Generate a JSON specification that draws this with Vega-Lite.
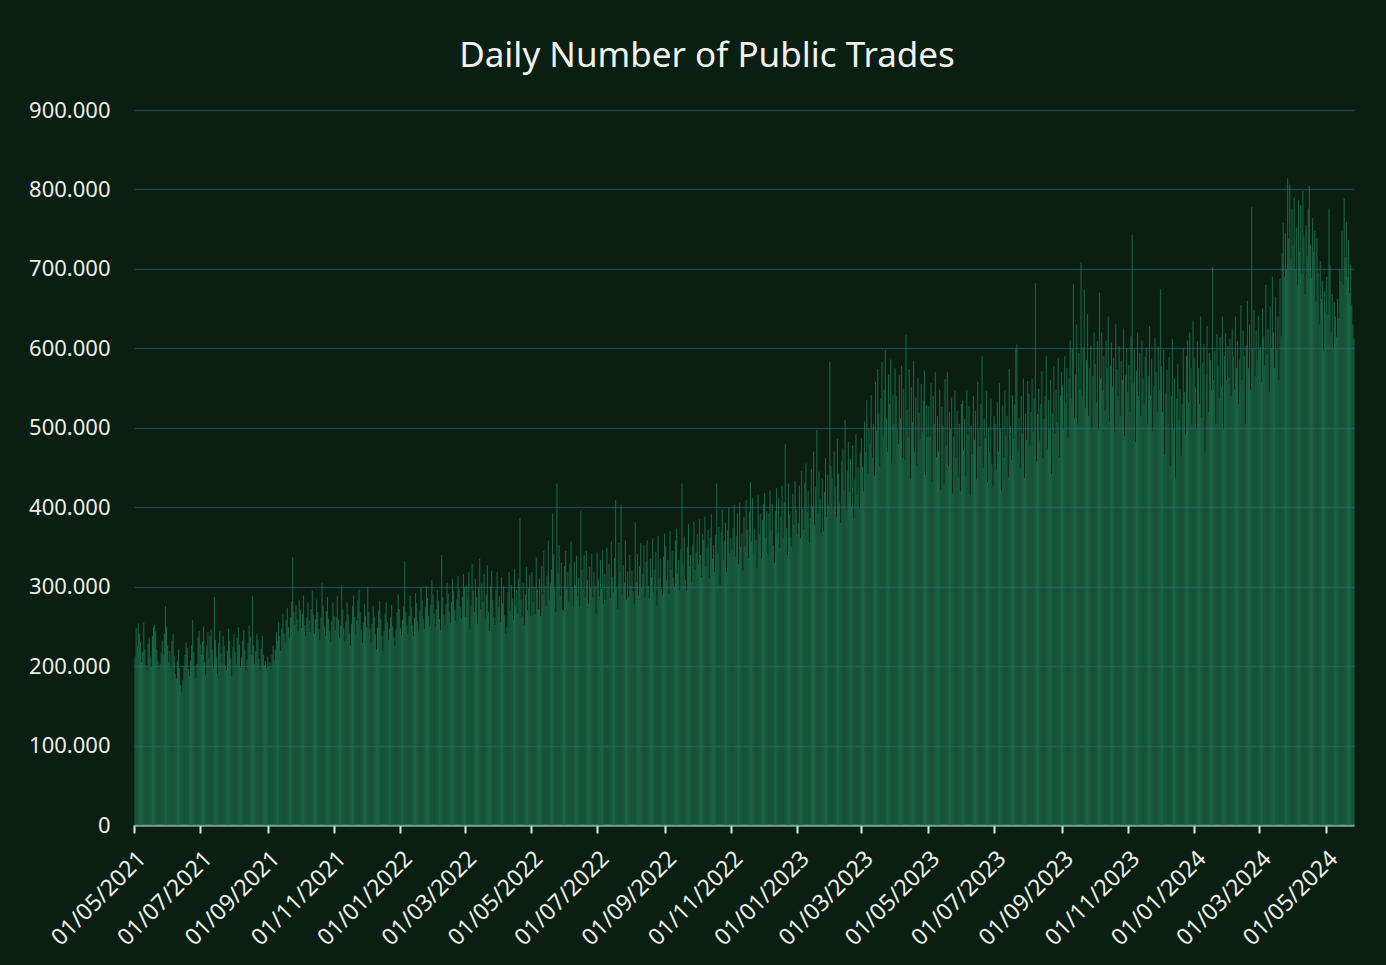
{
"$schema": "https://vega.github.io/schema/vega-lite/v6.json",
"width": 1220,
"height": 715,
"autosize": {"type": "none"},
"padding": {"left": 134, "top": 110, "right": 32, "bottom": 140},
"background": "#0a1e12",
"title": {"text": "Daily Number of Public Trades", "anchor": "middle", "dx": -37, "offset": 25, "font": "Noto Sans", "fontSize": 35, "fontWeight": "normal", "color": "#f2f2ec"},
"data": {"format": {"type": "csv", "parse": {"date": "utc:'%Y%m%d'", "trades": "number"}}, "values": "date,trades\n20210501,212000\n20210502,248000\n20210503,226000\n20210504,254000\n20210505,241000\n20210506,230000\n20210507,205000\n20210508,218000\n20210509,255000\n20210510,222000\n20210511,201000\n20210512,195000\n20210513,228000\n20210514,236000\n20210515,212000\n20210516,199000\n20210517,238000\n20210518,249000\n20210519,252000\n20210520,244000\n20210521,221000\n20210522,206000\n20210523,197000\n20210524,203000\n20210525,217000\n20210526,232000\n20210527,214000\n20210528,241000\n20210529,275000\n20210530,250000\n20210531,226000\n20210601,205000\n20210602,219000\n20210603,198000\n20210604,232000\n20210605,240000\n20210606,212000\n20210607,190000\n20210608,184000\n20210609,206000\n20210610,221000\n20210611,197000\n20210612,176000\n20210613,168000\n20210614,182000\n20210615,201000\n20210616,214000\n20210617,230000\n20210618,223000\n20210619,196000\n20210620,188000\n20210621,207000\n20210622,226000\n20210623,258000\n20210624,218000\n20210625,199000\n20210626,185000\n20210627,203000\n20210628,236000\n20210629,244000\n20210630,227000\n20210701,214000\n20210702,231000\n20210703,250000\n20210704,205000\n20210705,189000\n20210706,226000\n20210707,243000\n20210708,210000\n20210709,238000\n20210710,246000\n20210711,221000\n20210712,198000\n20210713,287000\n20210714,233000\n20210715,212000\n20210716,190000\n20210717,229000\n20210718,244000\n20210719,216000\n20210720,203000\n20210721,238000\n20210722,226000\n20210723,201000\n20210724,195000\n20210725,219000\n20210726,247000\n20210727,232000\n20210728,210000\n20210729,188000\n20210730,224000\n20210731,240000\n20210801,218000\n20210802,203000\n20210803,236000\n20210804,249000\n20210805,227000\n20210806,198000\n20210807,211000\n20210808,232000\n20210809,245000\n20210810,220000\n20210811,195000\n20210812,208000\n20210813,229000\n20210814,251000\n20210815,237000\n20210816,214000\n20210817,288000\n20210818,226000\n20210819,203000\n20210820,219000\n20210821,241000\n20210822,233000\n20210823,209000\n20210824,196000\n20210825,222000\n20210826,238000\n20210827,214000\n20210828,201000\n20210829,206000\n20210830,198000\n20210831,212000\n20210901,199000\n20210902,205000\n20210903,196000\n20210904,214000\n20210905,226000\n20210906,208000\n20210907,221000\n20210908,243000\n20210909,232000\n20210910,255000\n20210911,238000\n20210912,219000\n20210913,247000\n20210914,266000\n20210915,241000\n20210916,229000\n20210917,258000\n20210918,273000\n20210919,249000\n20210920,236000\n20210921,262000\n20210922,281000\n20210923,337000\n20210924,268000\n20210925,252000\n20210926,277000\n20210927,259000\n20210928,244000\n20210929,283000\n20210930,271000\n20211001,248000\n20211002,266000\n20211003,289000\n20211004,252000\n20211005,238000\n20211006,261000\n20211007,280000\n20211008,257000\n20211009,243000\n20211010,272000\n20211011,295000\n20211012,264000\n20211013,241000\n20211014,259000\n20211015,284000\n20211016,268000\n20211017,247000\n20211018,233000\n20211019,262000\n20211020,305000\n20211021,276000\n20211022,250000\n20211023,238000\n20211024,269000\n20211025,287000\n20211026,259000\n20211027,244000\n20211028,231000\n20211029,256000\n20211030,280000\n20211031,263000\n20211101,245000\n20211102,262000\n20211103,288000\n20211104,259000\n20211105,236000\n20211106,251000\n20211107,302000\n20211108,271000\n20211109,248000\n20211110,231000\n20211111,257000\n20211112,280000\n20211113,264000\n20211114,242000\n20211115,226000\n20211116,253000\n20211117,276000\n20211118,289000\n20211119,262000\n20211120,240000\n20211121,258000\n20211122,283000\n20211123,296000\n20211124,268000\n20211125,246000\n20211126,229000\n20211127,255000\n20211128,278000\n20211129,263000\n20211130,249000\n20211201,300000\n20211202,268000\n20211203,247000\n20211204,229000\n20211205,253000\n20211206,276000\n20211207,262000\n20211208,240000\n20211209,221000\n20211210,248000\n20211211,270000\n20211212,282000\n20211213,259000\n20211214,238000\n20211215,219000\n20211216,244000\n20211217,266000\n20211218,280000\n20211219,255000\n20211220,233000\n20211221,247000\n20211222,262000\n20211223,277000\n20211224,250000\n20211225,236000\n20211226,226000\n20211227,246000\n20211228,268000\n20211229,290000\n20211230,272000\n20211231,248000\n20220101,239000\n20220102,258000\n20220103,275000\n20220104,332000\n20220105,268000\n20220106,251000\n20220107,240000\n20220108,263000\n20220109,289000\n20220110,274000\n20220111,252000\n20220112,238000\n20220113,261000\n20220114,292000\n20220115,279000\n20220116,256000\n20220117,244000\n20220118,270000\n20220119,299000\n20220120,283000\n20220121,260000\n20220122,247000\n20220123,274000\n20220124,301000\n20220125,286000\n20220126,263000\n20220127,250000\n20220128,277000\n20220129,308000\n20220130,290000\n20220131,266000\n20220201,249000\n20220202,272000\n20220203,296000\n20220204,282000\n20220205,259000\n20220206,245000\n20220207,340000\n20220208,287000\n20220209,264000\n20220210,251000\n20220211,278000\n20220212,305000\n20220213,291000\n20220214,268000\n20220215,254000\n20220216,281000\n20220217,310000\n20220218,294000\n20220219,271000\n20220220,257000\n20220221,284000\n20220222,313000\n20220223,297000\n20220224,274000\n20220225,260000\n20220226,287000\n20220227,316000\n20220228,300000\n20220301,262000\n20220302,301000\n20220303,284000\n20220304,318000\n20220305,247000\n20220306,276000\n20220307,329000\n20220308,295000\n20220309,268000\n20220310,310000\n20220311,287000\n20220312,253000\n20220313,299000\n20220314,335000\n20220315,272000\n20220316,304000\n20220317,281000\n20220318,316000\n20220319,259000\n20220320,290000\n20220321,327000\n20220322,268000\n20220323,244000\n20220324,301000\n20220325,320000\n20220326,283000\n20220327,262000\n20220328,252000\n20220329,296000\n20220330,318000\n20220331,275000\n20220401,288000\n20220402,255000\n20220403,312000\n20220404,279000\n20220405,301000\n20220406,264000\n20220407,241000\n20220408,249000\n20220409,293000\n20220410,318000\n20220411,270000\n20220412,302000\n20220413,285000\n20220414,258000\n20220415,322000\n20220416,276000\n20220417,296000\n20220418,267000\n20220419,310000\n20220420,386000\n20220421,284000\n20220422,262000\n20220423,305000\n20220424,252000\n20220425,290000\n20220426,325000\n20220427,271000\n20220428,298000\n20220429,314000\n20220430,263000\n20220501,318000\n20220502,281000\n20220503,300000\n20220504,265000\n20220505,337000\n20220506,296000\n20220507,272000\n20220508,310000\n20220509,263000\n20220510,326000\n20220511,290000\n20220512,345000\n20220513,301000\n20220514,276000\n20220515,314000\n20220516,358000\n20220517,283000\n20220518,304000\n20220519,322000\n20220520,392000\n20220521,341000\n20220522,297000\n20220523,268000\n20220524,430000\n20220525,317000\n20220526,352000\n20220527,288000\n20220528,330000\n20220529,271000\n20220530,270000\n20220531,326000\n20220601,345000\n20220602,296000\n20220603,318000\n20220604,281000\n20220605,329000\n20220606,357000\n20220607,300000\n20220608,276000\n20220609,331000\n20220610,302000\n20220611,339000\n20220612,288000\n20220613,311000\n20220614,274000\n20220615,395000\n20220616,322000\n20220617,297000\n20220618,340000\n20220619,286000\n20220620,345000\n20220621,308000\n20220622,279000\n20220623,325000\n20220624,298000\n20220625,341000\n20220626,287000\n20220627,318000\n20220628,301000\n20220629,266000\n20220630,343000\n20220701,310000\n20220702,288000\n20220703,334000\n20220704,297000\n20220705,346000\n20220706,278000\n20220707,316000\n20220708,283000\n20220709,349000\n20220710,301000\n20220711,329000\n20220712,286000\n20220713,357000\n20220714,312000\n20220715,293000\n20220716,336000\n20220717,409000\n20220718,299000\n20220719,272000\n20220720,355000\n20220721,318000\n20220722,403000\n20220723,290000\n20220724,327000\n20220725,305000\n20220726,358000\n20220727,284000\n20220728,319000\n20220729,287000\n20220730,340000\n20220731,301000\n20220801,320000\n20220802,294000\n20220803,278000\n20220804,381000\n20220805,306000\n20220806,341000\n20220807,289000\n20220808,326000\n20220809,355000\n20220810,298000\n20220811,316000\n20220812,352000\n20220813,287000\n20220814,331000\n20220815,358000\n20220816,301000\n20220817,285000\n20220818,335000\n20220819,312000\n20220820,361000\n20220821,293000\n20220822,322000\n20220823,344000\n20220824,276000\n20220825,364000\n20220826,310000\n20220827,335000\n20220828,297000\n20220829,290000\n20220830,338000\n20220831,367000\n20220901,351000\n20220902,308000\n20220903,334000\n20220904,291000\n20220905,370000\n20220906,322000\n20220907,345000\n20220908,312000\n20220909,300000\n20220910,358000\n20220911,373000\n20220912,317000\n20220913,334000\n20220914,296000\n20220915,347000\n20220916,430000\n20220917,328000\n20220918,363000\n20220919,308000\n20220920,295000\n20220921,350000\n20220922,379000\n20220923,326000\n20220924,340000\n20220925,306000\n20220926,353000\n20220927,382000\n20220928,321000\n20220929,343000\n20220930,366000\n20221001,328000\n20221002,385000\n20221003,340000\n20221004,312000\n20221005,366000\n20221006,359000\n20221007,388000\n20221008,325000\n20221009,349000\n20221010,372000\n20221011,310000\n20221012,362000\n20221013,391000\n20221014,335000\n20221015,352000\n20221016,318000\n20221017,365000\n20221018,430000\n20221019,341000\n20221020,375000\n20221021,302000\n20221022,368000\n20221023,397000\n20221024,334000\n20221025,358000\n20221026,380000\n20221027,318000\n20221028,371000\n20221029,400000\n20221030,342000\n20221031,361000\n20221101,347000\n20221102,374000\n20221103,403000\n20221104,338000\n20221105,364000\n20221106,392000\n20221107,329000\n20221108,406000\n20221109,350000\n20221110,367000\n20221111,320000\n20221112,388000\n20221113,351000\n20221114,409000\n20221115,372000\n20221116,336000\n20221117,394000\n20221118,432000\n20221119,357000\n20221120,412000\n20221121,343000\n20221122,373000\n20221123,359000\n20221124,324000\n20221125,415000\n20221126,366000\n20221127,392000\n20221128,335000\n20221129,384000\n20221130,404000\n20221201,418000\n20221202,362000\n20221203,395000\n20221204,341000\n20221205,392000\n20221206,421000\n20221207,370000\n20221208,404000\n20221209,352000\n20221210,330000\n20221211,395000\n20221212,424000\n20221213,368000\n20221214,412000\n20221215,349000\n20221216,388000\n20221217,427000\n20221218,361000\n20221219,406000\n20221220,480000\n20221221,374000\n20221222,340000\n20221223,430000\n20221224,391000\n20221225,362000\n20221226,350000\n20221227,417000\n20221228,378000\n20221229,433000\n20221230,397000\n20221231,365000\n20230101,380000\n20230102,427000\n20230103,361000\n20230104,446000\n20230105,398000\n20230106,372000\n20230107,431000\n20230108,455000\n20230109,394000\n20230110,420000\n20230111,355000\n20230112,386000\n20230113,448000\n20230114,402000\n20230115,470000\n20230116,378000\n20230117,425000\n20230118,497000\n20230119,392000\n20230120,445000\n20230121,410000\n20230122,368000\n20230123,436000\n20230124,370000\n20230125,419000\n20230126,462000\n20230127,388000\n20230128,441000\n20230129,403000\n20230130,583000\n20230131,452000\n20230201,436000\n20230202,398000\n20230203,470000\n20230204,425000\n20230205,388000\n20230206,486000\n20230207,442000\n20230208,405000\n20230209,380000\n20230210,458000\n20230211,474000\n20230212,421000\n20230213,510000\n20230214,396000\n20230215,445000\n20230216,482000\n20230217,419000\n20230218,461000\n20230219,402000\n20230220,478000\n20230221,385000\n20230222,435000\n20230223,492000\n20230224,416000\n20230225,450000\n20230226,399000\n20230227,468000\n20230228,487000\n20230301,451000\n20230302,420000\n20230303,508000\n20230304,470000\n20230305,535000\n20230306,442000\n20230307,499000\n20230308,480000\n20230309,541000\n20230310,462000\n20230311,505000\n20230312,440000\n20230313,558000\n20230314,496000\n20230315,574000\n20230316,518000\n20230317,452000\n20230318,537000\n20230319,583000\n20230320,489000\n20230321,548000\n20230322,598000\n20230323,512000\n20230324,470000\n20230325,567000\n20230326,530000\n20230327,586000\n20230328,455000\n20230329,542000\n20230330,505000\n20230331,575000\n20230401,540000\n20230402,498000\n20230403,480000\n20230404,566000\n20230405,512000\n20230406,578000\n20230407,462000\n20230408,549000\n20230409,460000\n20230410,617000\n20230411,523000\n20230412,488000\n20230413,574000\n20230414,436000\n20230415,551000\n20230416,507000\n20230417,584000\n20230418,470000\n20230419,538000\n20230420,452000\n20230421,563000\n20230422,519000\n20230423,486000\n20230424,555000\n20230425,495000\n20230426,534000\n20230427,572000\n20230428,441000\n20230429,528000\n20230430,488000\n20230501,527000\n20230502,489000\n20230503,556000\n20230504,432000\n20230505,540000\n20230506,505000\n20230507,570000\n20230508,463000\n20230509,515000\n20230510,470000\n20230511,548000\n20230512,422000\n20230513,526000\n20230514,503000\n20230515,430000\n20230516,561000\n20230517,478000\n20230518,570000\n20230519,452000\n20230520,520000\n20230521,499000\n20230522,538000\n20230523,417000\n20230524,489000\n20230525,547000\n20230526,462000\n20230527,521000\n20230528,438000\n20230529,505000\n20230530,420000\n20230531,530000\n20230601,534000\n20230602,472000\n20230603,511000\n20230604,440000\n20230605,548000\n20230606,492000\n20230607,527000\n20230608,415000\n20230609,503000\n20230610,466000\n20230611,540000\n20230612,485000\n20230613,521000\n20230614,435000\n20230615,558000\n20230616,498000\n20230617,476000\n20230618,530000\n20230619,590000\n20230620,449000\n20230621,512000\n20230622,487000\n20230623,546000\n20230624,432000\n20230625,501000\n20230626,470000\n20230627,537000\n20230628,455000\n20230629,425000\n20230630,515000\n20230701,505000\n20230702,448000\n20230703,532000\n20230704,470000\n20230705,556000\n20230706,499000\n20230707,421000\n20230708,528000\n20230709,463000\n20230710,547000\n20230711,490000\n20230712,515000\n20230713,438000\n20230714,574000\n20230715,502000\n20230716,460000\n20230717,541000\n20230718,486000\n20230719,529000\n20230720,600000\n20230721,605000\n20230722,470000\n20230723,512000\n20230724,449000\n20230725,540000\n20230726,493000\n20230727,562000\n20230728,437000\n20230729,518000\n20230730,485000\n20230731,559000\n20230801,543000\n20230802,478000\n20230803,520000\n20230804,562000\n20230805,495000\n20230806,536000\n20230807,682000\n20230808,458000\n20230809,517000\n20230810,549000\n20230811,484000\n20230812,530000\n20230813,571000\n20230814,462000\n20230815,511000\n20230816,540000\n20230817,590000\n20230818,474000\n20230819,535000\n20230820,498000\n20230821,560000\n20230822,442000\n20230823,518000\n20230824,577000\n20230825,493000\n20230826,548000\n20230827,507000\n20230828,588000\n20230829,463000\n20230830,541000\n20230831,570000\n20230901,554000\n20230902,498000\n20230903,590000\n20230904,531000\n20230905,575000\n20230906,488000\n20230907,562000\n20230908,610000\n20230909,536000\n20230910,599000\n20230911,681000\n20230912,512000\n20230913,567000\n20230914,630000\n20230915,505000\n20230916,594000\n20230917,548000\n20230918,708000\n20230919,540000\n20230920,602000\n20230921,674000\n20230922,525000\n20230923,585000\n20230924,643000\n20230925,515000\n20230926,575000\n20230927,604000\n20230928,498000\n20230929,565000\n20230930,620000\n20231001,580000\n20231002,532000\n20231003,609000\n20231004,498000\n20231005,670000\n20231006,562000\n20231007,620000\n20231008,547000\n20231009,590000\n20231010,521000\n20231011,610000\n20231012,575000\n20231013,640000\n20231014,508000\n20231015,578000\n20231016,607000\n20231017,552000\n20231018,588000\n20231019,495000\n20231020,631000\n20231021,574000\n20231022,540000\n20231023,603000\n20231024,515000\n20231025,584000\n20231026,560000\n20231027,625000\n20231028,490000\n20231029,566000\n20231030,600000\n20231031,545000\n20231101,579000\n20231102,520000\n20231103,615000\n20231104,743000\n20231105,556000\n20231106,598000\n20231107,482000\n20231108,572000\n20231109,620000\n20231110,540000\n20231111,594000\n20231112,515000\n20231113,610000\n20231114,562000\n20231115,530000\n20231116,589000\n20231117,601000\n20231118,505000\n20231119,565000\n20231120,628000\n20231121,541000\n20231122,587000\n20231123,496000\n20231124,552000\n20231125,613000\n20231126,570000\n20231127,520000\n20231128,602000\n20231129,548000\n20231130,675000\n20231201,577000\n20231202,520000\n20231203,598000\n20231204,466000\n20231205,544000\n20231206,573000\n20231207,505000\n20231208,589000\n20231209,452000\n20231210,540000\n20231211,612000\n20231212,498000\n20231213,563000\n20231214,437000\n20231215,536000\n20231216,580000\n20231217,510000\n20231218,549000\n20231219,465000\n20231220,530000\n20231221,600000\n20231222,545000\n20231223,492000\n20231224,590000\n20231225,610000\n20231226,532000\n20231227,620000\n20231228,575000\n20231229,505000\n20231230,635000\n20231231,588000\n20240101,552000\n20240102,498000\n20240103,609000\n20240104,575000\n20240105,530000\n20240106,640000\n20240107,513000\n20240108,582000\n20240109,605000\n20240110,470000\n20240111,566000\n20240112,628000\n20240113,520000\n20240114,594000\n20240115,585000\n20240116,548000\n20240117,702000\n20240118,560000\n20240119,597000\n20240120,505000\n20240121,618000\n20240122,578000\n20240123,537000\n20240124,614000\n20240125,552000\n20240126,640000\n20240127,498000\n20240128,590000\n20240129,619000\n20240130,560000\n20240131,603000\n20240201,563000\n20240202,612000\n20240203,540000\n20240204,625000\n20240205,590000\n20240206,548000\n20240207,640000\n20240208,575000\n20240209,609000\n20240210,530000\n20240211,586000\n20240212,655000\n20240213,560000\n20240214,622000\n20240215,590000\n20240216,505000\n20240217,604000\n20240218,660000\n20240219,575000\n20240220,630000\n20240221,548000\n20240222,778000\n20240223,600000\n20240224,648000\n20240225,565000\n20240226,622000\n20240227,585000\n20240228,641000\n20240229,598000\n20240301,602000\n20240302,558000\n20240303,650000\n20240304,615000\n20240305,579000\n20240306,680000\n20240307,592000\n20240308,625000\n20240309,545000\n20240310,653000\n20240311,600000\n20240312,690000\n20240313,620000\n20240314,575000\n20240315,665000\n20240316,598000\n20240317,640000\n20240318,560000\n20240319,688000\n20240320,615000\n20240321,720000\n20240322,758000\n20240323,690000\n20240324,745000\n20240325,700000\n20240326,814000\n20240327,738000\n20240328,806000\n20240329,712000\n20240330,775000\n20240331,730000\n20240401,790000\n20240402,700000\n20240403,752000\n20240404,680000\n20240405,787000\n20240406,722000\n20240407,780000\n20240408,695000\n20240409,798000\n20240410,742000\n20240411,668000\n20240412,755000\n20240413,716000\n20240414,776000\n20240415,804000\n20240416,730000\n20240417,689000\n20240418,764000\n20240419,722000\n20240420,748000\n20240421,660000\n20240422,739000\n20240423,695000\n20240424,630000\n20240425,710000\n20240426,662000\n20240427,685000\n20240428,598000\n20240429,672000\n20240430,645000\n20240501,690000\n20240502,642000\n20240503,776000\n20240504,705000\n20240505,620000\n20240506,668000\n20240507,600000\n20240508,658000\n20240509,640000\n20240510,615000\n20240511,662000\n20240512,637000\n20240513,700000\n20240514,685000\n20240515,748000\n20240516,680000\n20240517,789000\n20240518,715000\n20240519,759000\n20240520,690000\n20240521,736000\n20240522,670000\n20240523,705000\n20240524,655000\n20240525,630000\n20240526,612000"},
"mark": {"type": "bar", "color": "#1b6446", "binSpacing": 0},
"encoding": {
"x": {"field": "date", "timeUnit": "utcyearmonthdate", "type": "temporal", "axis": {"title": null, "format": "%d/%m/%Y", "tickCount": {"interval": "month", "step": 2}, "labelAngle": -45, "labelFontSize": 23, "labelFont": "Noto Sans", "labelColor": "#eeeee8", "labelPadding": 14, "grid": false, "domainColor": "#cdeee0", "domainWidth": 2, "tickColor": "#cdeee0", "tickWidth": 2, "tickSize": 8, "labelOverlap": false}},
"y": {"field": "trades", "type": "quantitative", "scale": {"domain": [0, 900000], "nice": false}, "axis": {"title": null, "values": [0, 100000, 200000, 300000, 400000, 500000, 600000, 700000, 800000, 900000], "labelExpr": "replace(format(datum.value, ','), ',', '.')", "labelFontSize": 22, "labelFont": "Noto Sans", "labelColor": "#eeeee8", "labelPadding": 24, "domain": false, "ticks": false, "grid": true, "gridColor": "#2f6b62", "gridOpacity": 0.55, "gridWidth": 1.5, "zindex": 1}}
},
"config": {"view": {"stroke": null}}
}
